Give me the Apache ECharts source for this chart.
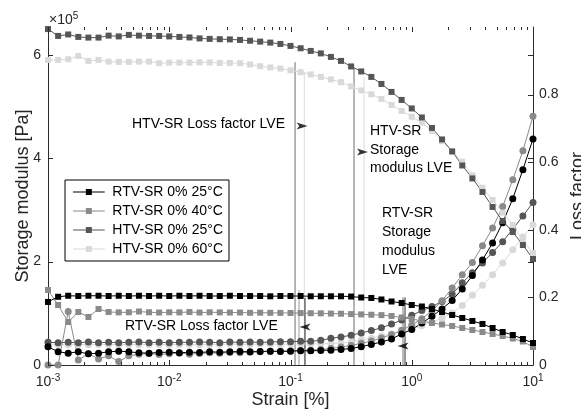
<!DOCTYPE html>
<html>
<head>
<meta charset="utf-8">
<script src="https://cdn.jsdelivr.net/npm/echarts@6/dist/echarts.min.js"></script>
<style>
  html, body { margin: 0; padding: 0; background: #fff; }
  #chart { width: 581px; height: 414px; }
</style>
</head>
<body>
<div id="chart"></div>
<script>
// Strain sweep [%], 12 points per decade from 1e-3 to 1e1
const strain = [
  0.001, 0.001212, 0.001468, 0.001778, 0.002154, 0.00261, 0.003162, 0.003831, 0.004642, 0.005623, 0.006813, 0.008254,
  0.01, 0.01212, 0.01468, 0.01778, 0.02154, 0.0261, 0.03162, 0.03831, 0.04642, 0.05623, 0.06813, 0.08254,
  0.1, 0.1212, 0.1468, 0.1778, 0.2154, 0.261, 0.3162, 0.3831, 0.4642, 0.5623, 0.6813, 0.8254,
  1, 1.212, 1.468, 1.778, 2.154, 2.61, 3.162, 3.831, 4.642, 5.623, 6.813, 8.254, 10
];

// Storage modulus [Pa]
const rtv25Storage = [
  122000, 132000, 134000, 133500, 134000, 134000, 133500, 134000, 133500, 134000, 133500, 134000,
  133500, 134000, 133500, 134000, 133500, 133500, 134000, 133500, 133500, 133500, 133000, 133500,
  133500, 133500, 133000, 133000, 133000, 133000, 132500, 130600, 129700, 126800, 122900, 120000,
  116100, 113200, 108400, 102600, 96800, 91000, 85200, 79400, 71600, 63900, 58100, 50300, 42600
];
const rtv40Storage = [
  145200, 116100, 83200, 102600, 92900, 108400, 102600, 101800, 102000, 103500, 102000, 101500,
  102000, 101800, 102500, 101500, 102000, 101800, 101500, 101500, 101000, 101200, 101000, 100800,
  100600, 100500, 100200, 100000, 99500, 99200, 98500, 97900, 97300, 96500, 94800, 91900,
  89000, 85200, 81300, 78400, 75500, 71600, 67700, 63900, 60000, 56100, 51300, 45500, 34800
];
const htv25Storage = [
  650000, 636700, 639600, 634800, 633500, 633500, 637300, 635800, 638700, 637300, 636700, 636700,
  635800, 634800, 633800, 631900, 631000, 630400, 630000, 629000, 627400, 625700, 623800, 621200,
  617400, 612900, 607700, 602900, 596100, 588400, 577700, 568000, 557400, 543800, 528400, 512900,
  496400, 479000, 458700, 436400, 413200, 386100, 361000, 334800, 305800, 278700, 257400, 232200, 205100
];
const htv60Storage = [
  590300, 590300, 591600, 598000, 588400, 590300, 587000, 586400, 586400, 587000, 587000, 583900,
  585100, 585100, 585100, 585800, 585400, 584500, 584500, 583900, 581600, 578100, 575800, 573500,
  570300, 566500, 562200, 557400, 552600, 547100, 539000, 531300, 523900, 514800, 503200, 491600,
  480500, 468900, 452900, 433500, 413200, 393500, 366700, 343100, 319300, 294800, 271000, 240600, 216800
];

// Loss factor [-]
const rtv25Loss = [
  0.054, 0.039, 0.035, 0.039, 0.033, 0.035, 0.039, 0.041, 0.039, 0.036, 0.035, 0.037,
  0.038, 0.036, 0.038, 0.037, 0.039, 0.038, 0.039, 0.040, 0.039, 0.040, 0.041, 0.040,
  0.041, 0.042, 0.042, 0.043, 0.044, 0.046, 0.049, 0.054, 0.061, 0.068, 0.077, 0.092,
  0.105, 0.124, 0.144, 0.166, 0.191, 0.225, 0.265, 0.311, 0.361, 0.421, 0.492, 0.578, 0.669
];
const rtv40Loss = [
  0.0, 0.0, 0.158, 0.015, 0.033, 0.018, 0.027, 0.010, 0.027, 0.032, 0.034, 0.031,
  0.033, 0.035, 0.032, 0.034, 0.036, 0.035, 0.037, 0.036, 0.038, 0.039, 0.040, 0.041,
  0.042, 0.043, 0.044, 0.046, 0.049, 0.053, 0.058, 0.064, 0.071, 0.080, 0.090, 0.103,
  0.118, 0.137, 0.160, 0.190, 0.228, 0.267, 0.303, 0.353, 0.405, 0.469, 0.548, 0.634, 0.736
];
const htv25Loss = [
  0.067, 0.066, 0.067, 0.066, 0.068, 0.066, 0.067, 0.066, 0.067, 0.068, 0.066, 0.067,
  0.066, 0.067, 0.067, 0.068, 0.067, 0.066, 0.068, 0.067, 0.068, 0.067, 0.068, 0.069,
  0.069, 0.070, 0.070, 0.073, 0.079, 0.083, 0.088, 0.095, 0.102, 0.110, 0.121, 0.133,
  0.147, 0.161, 0.173, 0.188, 0.209, 0.243, 0.273, 0.302, 0.333, 0.365, 0.402, 0.441, 0.481
];
const htv60Loss = [
  0.060, 0.061, 0.060, 0.061, 0.060, 0.061, 0.061, 0.060, 0.061, 0.060, 0.061, 0.061,
  0.060, 0.061, 0.061, 0.060, 0.061, 0.061, 0.062, 0.061, 0.061, 0.062, 0.062, 0.061,
  0.062, 0.062, 0.062, 0.063, 0.063, 0.065, 0.068, 0.074, 0.079, 0.086, 0.092, 0.099,
  0.107, 0.116, 0.126, 0.139, 0.154, 0.176, 0.206, 0.236, 0.267, 0.302, 0.341, 0.379, 0.415
];

// Limits of the linear viscoelastic region: [strain, top of marker line in Pa]
const htvLossLve = [[0.109, 586000], [0.130, 567000]];
const htvStorageLve = [[0.334, 575000], [0.404, 557000]];
const rtvLossLve = [[0.1175, 145000], [0.1317, 130000]];
const rtvStorageLve = [[0.847, 131000], [0.88, 131000]];

const seriesNames = ['RTV-SR 0% 25°C', 'RTV-SR 0% 40°C', 'HTV-SR 0% 25°C', 'HTV-SR 0% 60°C'];
const seriesColors = ['#000000', '#8a8a8a', '#555555', '#d9d9d9'];

// tick positions: strain decades and the 2..9 subdivisions, modulus and loss factor steps
const majorTicks = [0.001, 0.01, 0.1, 1, 10];
const minorTicks = [];
for (let d = -3; d < 1; d++) {
  for (let m = 2; m <= 9; m++) minorTicks.push(m * Math.pow(10, d));
}
const modulusTicks = [0, 200000, 400000, 600000];
const lossTicks = [0, 0.2, 0.4, 0.6, 0.8];

const FONT = '"Liberation Sans", Arial, Helvetica, sans-serif';
const AX = '#2b2b2b';
const G_MAX = 654000;

function pairs(ys) { return strain.map((s, i) => [s, ys[i]]); }

const chart = echarts.init(document.getElementById('chart'), null, { renderer: 'canvas' });

const storageSets = [rtv25Storage, rtv40Storage, htv25Storage, htv60Storage];
const lossSets = [rtv25Loss, rtv40Loss, htv25Loss, htv60Loss];

const series = [];

function vline(p, color) {
  series.push({
    type: 'line', xAxisIndex: 0, yAxisIndex: 0, silent: true,
    data: [[p[0], p[1]], [p[0], 0]],
    symbol: 'none', lineStyle: { color: color, width: 1 }, z: 1
  });
}
vline(htvLossLve[0], '#6e6e6e');
vline(htvLossLve[1], '#dcdcdc');
vline(htvStorageLve[0], '#6e6e6e');
vline(htvStorageLve[1], '#dcdcdc');
vline(rtvLossLve[0], '#9a9a9a');
vline(rtvLossLve[1], '#222222');
vline(rtvStorageLve[0], '#777777');
vline(rtvStorageLve[1], '#333333');

// loss factor curves (circles, right axis)
[3, 2, 1, 0].forEach(k => {
  series.push({
    name: seriesNames[k] + ' loss', type: 'line', xAxisIndex: 0, yAxisIndex: 1,
    data: pairs(lossSets[k]), symbol: 'circle', symbolSize: 7, showSymbol: true,
    lineStyle: { color: seriesColors[k], width: 1 }, itemStyle: { color: seriesColors[k] },
    z: 3
  });
});
// storage modulus curves (squares, left axis)
[3, 2, 1, 0].forEach(k => {
  series.push({
    name: seriesNames[k], type: 'line', xAxisIndex: 0, yAxisIndex: 0,
    data: pairs(storageSets[k]), symbol: 'rect', symbolSize: 6, showSymbol: true,
    lineStyle: { color: seriesColors[k], width: 1 }, itemStyle: { color: seriesColors[k] },
    z: 4
  });
});

// arrow heads of the LVE annotations
const arrowPath = 'path://M0,0 L12,4 L0,8 L3,4 Z';
const arrowsRight = [[0.1245, 462600], [0.392, 412200]];
const arrowsLeft = [[0.1317, 73500], [0.847, 36800]];
series.push({
  type: 'scatter', xAxisIndex: 0, yAxisIndex: 0, silent: true, z: 7,
  data: arrowsRight, symbol: arrowPath, symbolSize: [11, 7], itemStyle: { color: '#000' }
});
series.push({
  type: 'scatter', xAxisIndex: 0, yAxisIndex: 0, silent: true, z: 7,
  data: arrowsLeft, symbol: arrowPath, symbolSize: [11, 7], symbolRotate: 180, itemStyle: { color: '#000' }
});

const textStyle = { fontFamily: FONT, fontSize: 14, fill: '#000' };
function txt(x, y, s) {
  return { type: 'text', left: x, top: y, style: Object.assign({ text: s }, textStyle), z: 100 };
}

const texts = [
  {
    type: 'text', left: 49, top: 11, z: 100,
    style: {
      text: '×10{s|5}', fontFamily: FONT, fontSize: 14, fill: '#262626',
      rich: { s: { fontFamily: FONT, fontSize: 10, fill: '#262626', padding: [0, 0, 9, 0] } }
    }
  },
  txt(132, 117, 'HTV-SR Loss factor LVE'),
  txt(370, 124, 'HTV-SR'),
  txt(370, 143, 'Storage'),
  txt(370, 161, 'modulus LVE'),
  txt(382, 206, 'RTV-SR'),
  txt(382, 225, 'Storage'),
  txt(382, 244, 'modulus'),
  txt(382, 263, 'LVE'),
  txt(125, 319, 'RTV-SR Loss factor LVE')
];

// legend glyph: thin line with a square marker in the middle
const legendIcon = 'path://M0,3 L15,3 L15,0 L22,0 L22,3 L37,3 L37,4 L22,4 L22,7 L15,7 L15,4 L0,4 Z';

const axisName = { fontFamily: FONT, fontSize: 18, color: '#262626' };
const axisLine = { show: true, lineStyle: { color: AX, width: 1 } };

chart.setOption({
  animation: false,
  backgroundColor: '#fff',
  textStyle: { fontFamily: FONT },
  grid: { left: 48, right: 48, top: 27, bottom: 49, containLabel: false, outerBoundsMode: 'none' },
  legend: {
    data: seriesNames.map(n => ({ name: n, icon: legendIcon })),
    orient: 'vertical', left: 65, top: 180,
    itemWidth: 37, itemHeight: 6, itemGap: 5,
    padding: [5, 6, 5, 8],
    borderColor: '#000', borderWidth: 1, backgroundColor: '#fff',
    textStyle: { fontFamily: FONT, fontSize: 14, color: '#000', lineHeight: 14 },
    z: 20
  },
  xAxis: [
    {
      type: 'log', logBase: 10, min: 0.001, max: 10, position: 'bottom',
      name: 'Strain [%]', nameLocation: 'middle', nameGap: 26, nameMoveOverlap: false,
      nameTextStyle: axisName, axisLine: axisLine,
      axisTick: { show: false }, splitLine: { show: false },
      axisLabel: {
        margin: 8, color: '#262626',
        formatter: v => '{b|10}{s|' + Math.round(Math.log10(v)) + '}',
        rich: {
          b: { fontFamily: FONT, fontSize: 14, color: '#262626' },
          s: { fontFamily: FONT, fontSize: 10, color: '#262626', padding: [0, 0, 9, 0] }
        }
      }
    },
    {
      type: 'log', logBase: 10, min: 0.001, max: 10, position: 'top',
      axisLine: axisLine, axisTick: { show: false },
      axisLabel: { show: false }, splitLine: { show: false }
    }
  ],
  yAxis: [
    {
      type: 'value', min: 0, max: G_MAX, interval: 200000, position: 'left',
      name: 'Storage modulus [Pa]', nameLocation: 'middle', nameGap: 16, nameMoveOverlap: false,
      nameTextStyle: axisName, axisLine: axisLine,
      axisTick: { show: false }, splitLine: { show: false },
      axisLabel: {
        showMaxLabel: false, margin: 7, fontFamily: FONT, fontSize: 14, color: '#262626',
        formatter: v => (v % 200000 === 0 ? String(v / 100000) : '')
      }
    },
    {
      type: 'value', min: 0, max: 1, interval: 0.2, position: 'right',
      name: 'Loss factor', nameLocation: 'middle', nameGap: 30,
      nameTextStyle: axisName, axisLine: axisLine,
      axisTick: { show: false }, splitLine: { show: false },
      axisLabel: {
        showMaxLabel: false, margin: 6, fontFamily: FONT, fontSize: 14, color: '#262626',
        formatter: v => (Math.abs(v - 1) < 1e-9 ? '' : String(Math.round(v * 10) / 10))
      }
    }
  ],
  graphic: texts,
  series: series
});

// tick marks pointing into the plot, placed through the axes' own scales
function tickLine(x1, y1, x2, y2) {
  return { type: 'line', silent: true, z: 50, shape: { x1: x1, y1: y1, x2: x2, y2: y2 }, style: { stroke: AX, lineWidth: 1 } };
}
const px = v => Math.round(chart.convertToPixel({ xAxisIndex: 0 }, v)) + 0.5;
const pyL = v => Math.round(chart.convertToPixel({ yAxisIndex: 0 }, v)) + 0.5;
const pyR = v => Math.round(chart.convertToPixel({ yAxisIndex: 1 }, v)) + 0.5;
const xLeft = chart.convertToPixel({ xAxisIndex: 0 }, 0.001);
const xRight = chart.convertToPixel({ xAxisIndex: 0 }, 10);
const yBottom = chart.convertToPixel({ yAxisIndex: 0 }, 0);
const yTop = chart.convertToPixel({ yAxisIndex: 0 }, G_MAX);

const ticks = [];
majorTicks.forEach(v => {
  const x = px(v);
  ticks.push(tickLine(x, yBottom, x, yBottom - 5), tickLine(x, yTop, x, yTop + 5));
});
minorTicks.forEach(v => {
  const x = px(v);
  ticks.push(tickLine(x, yBottom, x, yBottom - 3), tickLine(x, yTop, x, yTop + 3));
});
modulusTicks.forEach(v => {
  const y = pyL(v);
  ticks.push(tickLine(xLeft, y, xLeft + 5, y), tickLine(xRight, y, xRight - 5, y));
});
lossTicks.forEach(v => {
  const y = pyR(v);
  ticks.push(tickLine(xRight, y, xRight - 5, y));
});

chart.setOption({ graphic: texts.concat(ticks) });
</script>
</body>
</html>
